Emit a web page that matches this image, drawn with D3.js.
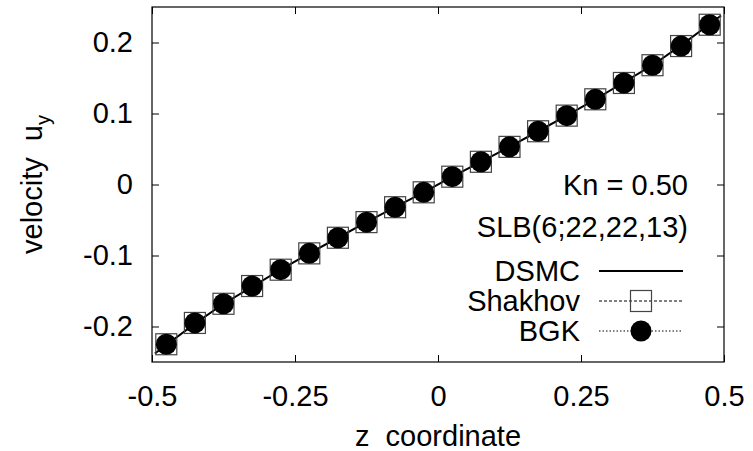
<!DOCTYPE html>
<html>
<head>
<meta charset="utf-8">
<script src="https://cdn.jsdelivr.net/npm/d3@7"></script>
<style>
  body { margin: 0; background: #fff; }
  svg { display: block; font-family: "Liberation Sans", Arial, sans-serif; }
  text { white-space: pre; }
</style>
</head>
<body>
<svg id="chart" width="753" height="451"></svg>
<script>
// data
var zPoints = [-0.475, -0.425, -0.375, -0.325, -0.275, -0.225, -0.175, -0.125, -0.075, -0.025,
  0.025, 0.075, 0.125, 0.175, 0.225, 0.275, 0.325, 0.375, 0.425, 0.475];
var shakhov = [-0.225, -0.195, -0.168, -0.143, -0.120, -0.097, -0.075, -0.053, -0.032, -0.011,
  0.011, 0.032, 0.053, 0.075, 0.097, 0.120, 0.143, 0.168, 0.195, 0.225];
var bgk = [-0.225, -0.195, -0.168, -0.143, -0.120, -0.097, -0.075, -0.053, -0.032, -0.011,
  0.011, 0.032, 0.053, 0.075, 0.097, 0.120, 0.143, 0.168, 0.195, 0.225];
var dsmcZ = [-0.495, -0.475, -0.425, -0.375, -0.325, -0.275, -0.225, -0.175, -0.125, -0.075, -0.025,
  0.025, 0.075, 0.125, 0.175, 0.225, 0.275, 0.325, 0.375, 0.425, 0.475, 0.495];
var dsmcU = [-0.238, -0.226, -0.196, -0.168, -0.144, -0.120, -0.097, -0.075, -0.053, -0.032, -0.011,
  0.011, 0.032, 0.053, 0.075, 0.097, 0.120, 0.144, 0.168, 0.196, 0.226, 0.238];
var xTicks = [-0.5, -0.25, 0, 0.25, 0.5];
var yTicks = [-0.2, -0.1, 0, 0.1, 0.2];

var svg = d3.select('#chart');
// plot frame (window.top is reserved, so use a prefix)
var pLeft = 152, pRight = 724, pTop = 7, pBottom = 362;
var fontSize = 29;

var x = d3.scaleLinear().domain([-0.5, 0.5]).range([pLeft, pRight]);
var y = d3.scaleLinear().domain([-0.25, 0.25]).range([pBottom, pTop]);

// plain hyphen minus, like gnuplot
var fmtY = function(d) { return d === 0 ? '0' : d.toFixed(1); };
var fmtX = function(d) { return d === 0 ? '0' : String(d); };

// axes: ticks point inward on all four sides
var axes = [
  { axis: d3.axisBottom(x).tickValues(xTicks).tickFormat(fmtX), t: 'translate(0,' + pBottom + ')', pad: 23 },
  { axis: d3.axisTop(x).tickValues(xTicks).tickFormat(''), t: 'translate(0,' + pTop + ')', pad: 0 },
  { axis: d3.axisLeft(y).tickValues(yTicks).tickFormat(fmtY), t: 'translate(' + pLeft + ',0)', pad: 19 },
  { axis: d3.axisRight(y).tickValues(yTicks).tickFormat(''), t: 'translate(' + pRight + ',0)', pad: 0 }
];
axes.forEach(function(a) {
  var g = svg.append('g').attr('transform', a.t)
    .call(a.axis.tickSizeInner(-7).tickSizeOuter(0).tickPadding(a.pad));
  g.select('.domain').remove();
  g.selectAll('line').attr('stroke', '#000');
  g.selectAll('text').attr('font-size', fontSize).attr('fill', '#000')
    .attr('font-family', '"Liberation Sans", Arial, sans-serif');
});
svg.append('rect')
  .attr('x', pLeft).attr('y', pTop)
  .attr('width', pRight - pLeft).attr('height', pBottom - pTop)
  .attr('fill', 'none').attr('stroke', '#000').attr('stroke-width', 1.2);

// axis titles
svg.append('text')
  .attr('x', (pLeft + pRight) / 2).attr('y', 446)
  .attr('text-anchor', 'middle').attr('font-size', fontSize)
  .text('z  coordinate');
var yl = svg.append('text')
  .attr('transform', 'translate(42,' + ((pTop + pBottom) / 2) + ') rotate(-90)')
  .attr('text-anchor', 'middle').attr('font-size', fontSize);
yl.append('tspan').text('velocity  u');
yl.append('tspan').attr('font-size', 20).attr('dy', 8).text('y');

// DSMC solid line
var line = d3.line().x(function(d) { return x(d[0]); }).y(function(d) { return y(d[1]); });
svg.append('path')
  .datum(d3.zip(dsmcZ, dsmcU))
  .attr('d', line)
  .attr('fill', 'none').attr('stroke', '#000').attr('stroke-width', 2);

// Shakhov open squares
var sq = 21;
svg.append('g').selectAll('rect')
  .data(d3.zip(zPoints, shakhov))
  .join('rect')
  .attr('x', function(d) { return x(d[0]) - sq / 2; })
  .attr('y', function(d) { return y(d[1]) - sq / 2; })
  .attr('width', sq).attr('height', sq)
  .attr('fill', 'none').attr('stroke', '#444').attr('stroke-width', 1.2);

// BGK filled circles
svg.append('g').selectAll('circle')
  .data(d3.zip(zPoints, bgk))
  .join('circle')
  .attr('cx', function(d) { return x(d[0]); })
  .attr('cy', function(d) { return y(d[1]); })
  .attr('r', 10.5)
  .attr('fill', '#000');

// annotation
svg.append('text').attr('x', 688).attr('y', 195)
  .attr('text-anchor', 'end').attr('font-size', fontSize).text('Kn = 0.50');
svg.append('text').attr('x', 688).attr('y', 237)
  .attr('text-anchor', 'end').attr('font-size', fontSize).text('SLB(6;22,22,13)');

// legend
var legend = svg.append('g');
var rows = [
  { name: 'DSMC', y: 271 },
  { name: 'Shakhov', y: 301 },
  { name: 'BGK', y: 331 }
];
rows.forEach(function(r) {
  legend.append('text').attr('x', 580).attr('y', r.y + 10)
    .attr('text-anchor', 'end').attr('font-size', fontSize).text(r.name);
});
legend.append('line').attr('x1', 599).attr('x2', 683).attr('y1', 271).attr('y2', 271)
  .attr('stroke', '#000').attr('stroke-width', 2);
legend.append('line').attr('x1', 599).attr('x2', 683).attr('y1', 301).attr('y2', 301)
  .attr('stroke', '#000').attr('stroke-width', 1).attr('stroke-dasharray', '3,2');
legend.append('rect').attr('x', 641 - sq / 2).attr('y', 301 - sq / 2)
  .attr('width', sq).attr('height', sq)
  .attr('fill', 'none').attr('stroke', '#444').attr('stroke-width', 1.2);
legend.append('line').attr('x1', 599).attr('x2', 683).attr('y1', 331).attr('y2', 331)
  .attr('stroke', '#000').attr('stroke-width', 1).attr('stroke-dasharray', '1.5,2');
legend.append('circle').attr('cx', 641).attr('cy', 331).attr('r', 10.5).attr('fill', '#000');
</script>
</body>
</html>
